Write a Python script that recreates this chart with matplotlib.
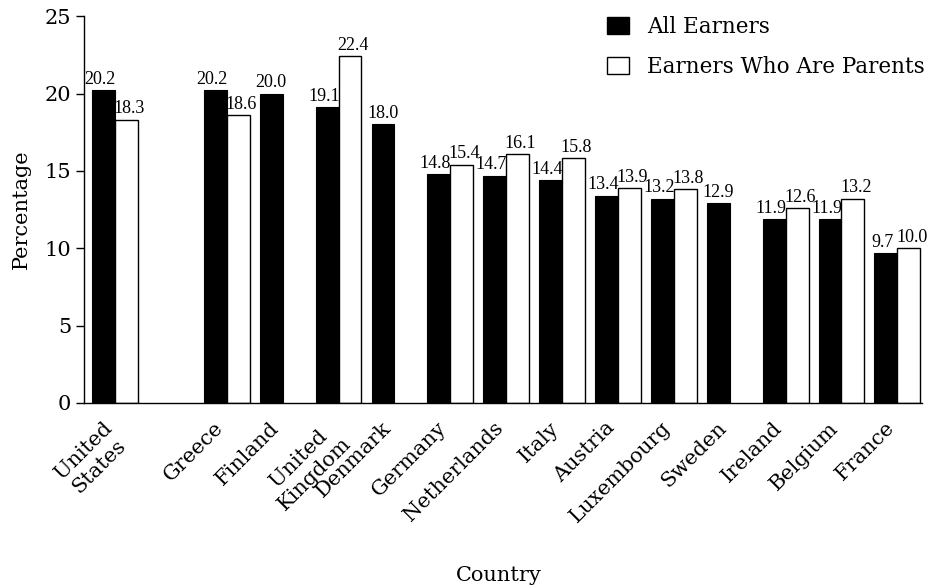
import numpy as np
import matplotlib.pyplot as plt
import matplotlib.transforms as mtrans
from matplotlib.patches import Patch

plt.rcParams['font.family'] = ['DejaVu Serif']

countries = ['United\nStates', 'Greece', 'Finland', 'United\nKingdom', 'Denmark',
             'Germany', 'Netherlands', 'Italy', 'Austria', 'Luxembourg',
             'Sweden', 'Ireland', 'Belgium', 'France']
slots = [0, 2, 3, 4, 5, 6, 7, 8, 9, 10, 11, 12, 13, 14]  # gap after US
all_earners = [20.2, 20.2, 20.0, 19.1, 18.0, 14.8, 14.7, 14.4, 13.4, 13.2, 12.9, 11.9, 11.9, 9.7]
parents = [18.3, 18.6, np.nan, 22.4, np.nan, 15.4, 16.1, 15.8, 13.9, 13.8, np.nan, 12.6, 13.2, 10.0]

fig = plt.figure(figsize=(9.28, 5.87), dpi=100)
ax = fig.add_axes([0.0905, 0.3135, 0.903, 0.659])

x = np.array(slots, dtype=float)
w = 0.41
ax.bar(x - w / 2, all_earners, w, color='black', edgecolor='black', linewidth=0.8)
par = np.array(parents)
ok = ~np.isnan(par)
ax.bar(x[ok] + w / 2, par[ok], w, color='white', edgecolor='black', linewidth=1.0)

lab_font = dict(family='Liberation Serif', fontsize=13)
for i, (xi, v) in enumerate(zip(x - w / 2, all_earners)):
    dx = -0.06 if ok[i] else 0
    ax.text(xi + dx, v + 0.15, f'{v:.1f}', ha='center', va='bottom', **lab_font)
for xi, v in zip(x[ok] + w / 2, par[ok]):
    ax.text(xi + 0.05, v + 0.15, f'{v:.1f}', ha='center', va='bottom', **lab_font)

ax.set_xlim(-0.555, 14.44)
ax.set_ylim(0, 25)
ax.set_yticks([0, 5, 10, 15, 20, 25])
ax.tick_params(axis='y', labelsize=15, length=6, width=1, direction='out', pad=3)
ax.set_xticks(x, countries, rotation=45, ha='right', va='top', rotation_mode='anchor',
              multialignment='center', fontsize=15)
ax.tick_params(axis='x', length=0, pad=11)
shift = mtrans.ScaledTranslation(-0.13, 0, fig.dpi_scale_trans)
for t in ax.get_xticklabels():
    t.set_transform(t.get_transform() + shift)

for s in ['top', 'right']:
    ax.spines[s].set_visible(False)
ax.spines['left'].set_linewidth(1)
ax.spines['bottom'].set_linewidth(1)

ax.set_ylabel('Percentage', fontsize=15, labelpad=10)
fig.text(0.538, 0.02, 'Country', ha='center', va='center', fontsize=15)

handles = [Patch(facecolor='black', edgecolor='black', label='All Earners'),
           Patch(facecolor='white', edgecolor='black', label='Earners Who Are Parents')]
fig.legend(handles=handles, loc='upper left', bbox_to_anchor=(607 / 928, 1 - 16 / 587),
           frameon=False, borderpad=0, borderaxespad=0, fontsize=15.5,
           handlelength=1.0, handleheight=0.85, handletextpad=0.85, labelspacing=0.82)

fig.savefig('out.png', dpi=100)
